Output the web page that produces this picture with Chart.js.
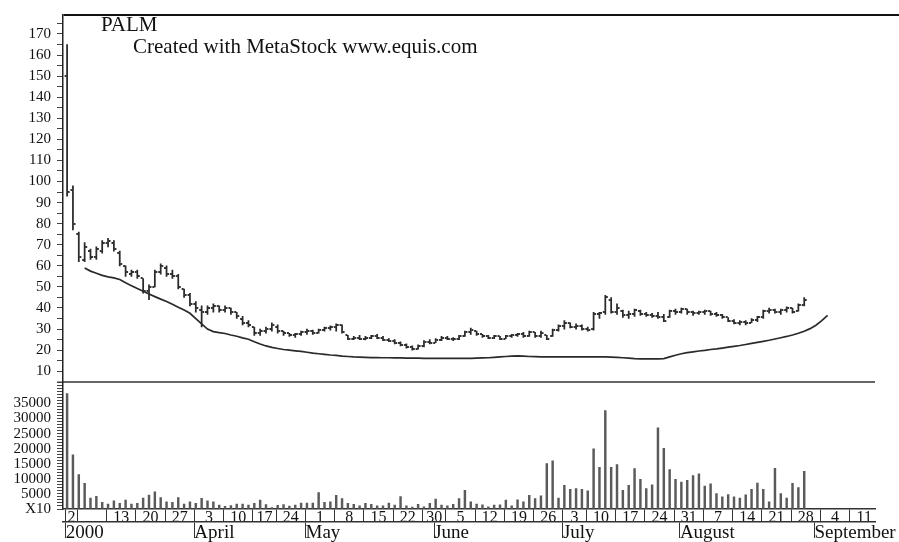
<!DOCTYPE html>
<html><head><meta charset="utf-8">
<script src="https://cdn.jsdelivr.net/npm/chart.js@4.4.1/dist/chart.umd.min.js"></script>
<style>
html,body{margin:0;padding:0;background:#fff;}
#wrap{position:relative;width:899px;height:542px;overflow:hidden;}
canvas{position:absolute;left:0;top:0;}
.note{position:absolute;font-family:"Liberation Serif",serif;font-size:21px;line-height:21px;color:#111;white-space:nowrap;}
</style></head><body>
<div id="wrap"><canvas id="c" width="899" height="542"></canvas>
<div class="note" style="left:101px;top:14px">PALM</div>
<div class="note" style="left:133px;top:36px">Created with MetaStock www.equis.com</div>
</div>
<script>
// ---- data (trading-day index 0 = 2 March 2000) ----
const highs = [165,98,76,71,68,69,72,73,72,67,60,58,58,54,51,58,61,60,58,56,49,47,43,41,41,42,41,41,40,38,36,34,31,30,31,33,32,29,28,28,29,30,29.5,30,31,31.5,32.5,32,27,26.5,27,26.5,27,27.5,26.5,25.5,25,24,23,22,22.5,24.5,25,25.5,26.5,26.5,26,27,29,30.5,29,27.5,27,27,26.5,27,27.5,28,28.5,29,28.5,29,27,30,32,34,33,32.5,32,31,38,38,46,45,42,39,38.5,39.5,39,38,37.5,38,37,39,39.5,40,39.5,38.5,38.5,39,38.5,38,37,35.5,34.5,34,34,35,36,39,40,39.5,39.5,40.5,40,42,45];
const lows = [93,77,62,62,63,63,66,69,67,60,55,55,54,47,44,50,56,55,54,49,45,41,38,31,37,38,38,38,37,35,32,31,27,27,28,29,28,27,26.5,26,27,27.5,27.5,28,29,29.5,29,28,25,25,25,24.8,25.5,25.5,24.5,24,23,22,21,20,20.5,21.5,23,23.5,24.5,25,24.5,25,26.5,27.5,27,26,25.5,25.5,25,25.5,26,26.5,26,26.5,26,26,25,26.5,29,30,30.5,30,29.5,29,29.5,35,37,37.5,37,35.5,35,36,36.5,36,35.5,35,33.5,35.5,37,37.5,37,36.5,37,37,36.5,36,35,33.5,32.5,32,32,33,33.5,35,37.5,37.5,37,38,37.5,38.5,41];
const opens = [150,96,75,63,67,64,67,71,71,66,60,56,57,54,48,50,57,59,56,55,49,46,42,39,38,40,41,39,40,38,35,33,31,28,29,30,31,29,28,27,27.5,28.5,29,28,29.5,30.5,31,32,27,25.5,26,25.5,26,26.5,26,25,24.5,23.5,22.5,21.5,20.5,22,24,23.5,25,26,25.5,25.5,26.5,28.5,29,27.5,26.5,26,26.5,25.5,26.5,27,27.5,26.5,28.5,26.5,27,26.5,29.5,31.5,33,31,31.5,30,30,37,38,44,38,38.5,36.5,37,38.5,37,36.5,36,35.5,35.5,38.5,38,39.5,38,37.5,38,38.5,37,36.5,35.5,34,33,33.5,33,34.5,35.5,38.5,39,38,39,40,38.5,41.5];
const closes = [95,80,64,69,64,68,71,72,68,61,57,57,55,48,50,57,60,56,55,50,46,42,40,38,40,41,39,40,38,36,33,32,28,29,30,32,29,28,27,27.5,28.5,29,28,29.5,30.5,31,32,28.5,25.5,26,25.5,26,26.5,26,25,24.5,23.5,22.5,21.5,20.5,22,24,23.5,25,26,25.5,25.5,26.5,28.5,29.5,27.5,26.5,26,26.5,25.5,26.5,27,27.5,26.5,28.5,26.5,28,25.5,29.5,31.5,33,31,31.5,30,29.5,37,37.5,45,38,40,36.5,37,39,37,36.5,36,35.5,34,38.5,38,39.5,38,37.5,38,38.5,37,36.5,35.5,34,33,33.5,33,34.5,35.5,38.5,39,38,39,40,38,41.5,44];
const volumes = [38300,18000,11400,8500,3600,4200,2200,1600,2700,1900,3000,1600,1900,3600,4600,5700,3800,2400,2200,3800,1600,2400,1900,3500,2700,2400,1300,900,1100,1600,1600,1300,1900,3000,1500,500,1200,1500,1000,1310,1960,1960,1960,5450,2180,2400,4570,3490,1850,1520,1090,1850,1520,1090,1090,1960,1310,4140,1090,650,1520,760,1850,3270,1310,1090,1520,3490,6210,2400,1640,1420,760,1310,1420,2940,1090,3050,2400,4570,3490,4360,15030,16010,3600,7840,6540,6750,6540,6000,19930,13830,32680,13830,14700,6200,7840,13400,9800,6750,8000,26900,20150,13070,9800,8900,9480,11100,11650,7630,8390,5120,4030,4790,4030,3590,4680,6540,8610,6540,2400,13500,5120,3590,8500,7080,12530];
const movingAvg = [null,null,null,59,57.5,56.5,55.5,54.8,54.3,53.5,52,50.6,49.2,47.9,46.6,45.4,44.2,43.1,41.8,40.4,39,37.5,35,32.5,30,28.8,28.3,27.9,27.2,26.6,25.8,25.2,24,22.9,22,21.3,20.8,20.3,20,19.7,19.4,19,18.6,18.3,18,17.7,17.5,17.2,17,16.8,16.7,16.6,16.5,16.5,16.4,16.4,16.3,16.3,16.2,16.2,16.2,16.1,16.1,16.1,16.1,16.1,16.1,16.1,16.1,16.1,16.2,16.3,16.4,16.6,16.8,17,17.2,17.3,17.2,17,16.9,16.8,16.8,16.8,16.8,16.8,16.8,16.8,16.8,16.8,16.8,16.8,16.8,16.7,16.6,16.4,16.2,16,15.9,15.9,15.9,15.9,16,16.8,17.6,18.3,18.8,19.2,19.6,19.9,20.3,20.6,21,21.4,21.8,22.2,22.7,23.2,23.7,24.2,24.7,25.3,25.9,26.5,27.2,28,29,30.2,31.8,34,36.5];
const weekStartIdx = [0,2,7,12,17,22,27,32,36,41,46,51,56,61,65,70,75,80,85,89,94,99,104,109,114,119,124,129,134,139];
const weekLabels = ['2','','13','20','27','3','10','17','24','1','8','15','22','30','5','12','19','26','3','10','17','24','31','7','14','21','28','4','11'];
const monthStartIdx = [0,22,41,63,85,105,128];
const monthLabels = ['2000','April','May','June','July','August','September'];
const priceTickLabels = [10,20,30,40,50,60,70,80,90,100,110,120,130,140,150,160,170];
const volumeTickLabels = [5000,10000,15000,20000,25000,30000,35000];
const volumeZeroLabel = 'X10';

// ---- chart ----
const FONT = '"Liberation Serif", "DejaVu Serif", serif';
Chart.defaults.font.family = FONT;
Chart.defaults.color = '#111';
const X_MIN = -0.7, X_MAX = 138.1, P_MIN = 5, P_MAX = 179, V_MAX = 42200;
const SHIFT = -0.25;

function tickImg(side){
  const c = document.createElement('canvas'); c.width = 7; c.height = 2;
  const g = c.getContext('2d'); g.fillStyle = '#333';
  if (side < 0) g.fillRect(1,0,2,2); else g.fillRect(4,0,2,2);
  return c;
}
const openImg = tickImg(-1), closeImg = tickImg(1);

const priceTicks = [];
for (let v = 5; v <= 175; v += 5) priceTicks.push(v);
priceTicks.push(P_MAX);
const volTicks = [];
for (let v = 0; v <= 42000; v += 1000) volTicks.push(v);

const idx = highs.map((_, i) => i);
const weekTicks = weekStartIdx.map(v => v + SHIFT).filter(v => v <= X_MAX);
const midTicks = weekLabels.map((_, k) => (weekStartIdx[k] + weekStartIdx[k+1]) / 2 + SHIFT);
const monthTicks = monthStartIdx.map(v => v + SHIFT);

// draws the frame line on top that runs on past the plot to the page edge
const topRule = {
  id: 'topRule',
  afterDraw(chart) {
    const a = chart.chartArea, c = chart.ctx;
    c.save(); c.strokeStyle = '#111'; c.lineWidth = 2;
    c.beginPath(); c.moveTo(a.right, a.top); c.lineTo(chart.width, a.top); c.stroke(); c.restore();
  }
};

new Chart(document.getElementById('c'), {
  type: 'bar',
  data: {
    datasets: [
      { type: 'bar', xAxisID: 'x', yAxisID: 'y', grouped: false,
        data: idx.map(i => ({x: i, y: [lows[i], highs[i]]})),
        backgroundColor: '#2a2a2a', barThickness: 1.1, borderWidth: 0 },
      { type: 'scatter', xAxisID: 'x', yAxisID: 'y', showLine: false,
        data: idx.map(i => ({x: i, y: opens[i]})), pointStyle: openImg, pointRadius: 3 },
      { type: 'scatter', xAxisID: 'x', yAxisID: 'y', showLine: false,
        data: idx.map(i => ({x: i, y: closes[i]})), pointStyle: closeImg, pointRadius: 3 },
      { type: 'line', xAxisID: 'x', yAxisID: 'y',
        data: movingAvg.map((v, i) => ({x: i, y: v})).filter(p => p.y !== null),
        borderColor: '#2a2a2a', borderWidth: 1.7, pointRadius: 0, tension: 0, fill: false },
      { type: 'bar', xAxisID: 'x', yAxisID: 'yv', grouped: false,
        data: idx.map(i => ({x: i, y: volumes[i]})),
        backgroundColor: '#5a5a5a', barThickness: 1.8, borderWidth: 0 }
    ]
  },
  plugins: [topRule],
  options: {
    responsive: false, animation: false, devicePixelRatio: 1, events: [],
    layout: { padding: { top: 12, right: 24, bottom: 0, left: 0 } },
    plugins: { legend: { display: false }, tooltip: { enabled: false }, title: { display: false } },
    scales: {
      yv: {
        type: 'linear', axis: 'y', position: 'left', stack: 'panes', stackWeight: 128,
        min: 0, max: V_MAX,
        afterBuildTicks: s => { s.ticks = volTicks.map(v => ({value: v})); },
        afterFit: s => { s.width = 63; },
        ticks: { autoSkip: false, padding: 6, font: { size: 15 }, color: '#111',
          callback: v => v === 0 ? volumeZeroLabel : (volumeTickLabels.includes(v) ? String(v) : '') },
        grid: { drawOnChartArea: false, tickLength: 6, color: '#444', tickWidth: 1 },
        border: { color: '#222', width: 1.5 }
      },
      y: {
        type: 'linear', axis: 'y', position: 'left', stack: 'panes', stackWeight: 369,
        min: P_MIN, max: P_MAX,
        afterBuildTicks: s => { s.ticks = priceTicks.map(v => ({value: v})); },
        afterFit: s => { s.width = 63; },
        ticks: { autoSkip: false, padding: 6, font: { size: 15 }, color: '#111',
          callback: v => priceTickLabels.includes(v) ? String(v) : '' },
        grid: {
          drawOnChartArea: true, tickLength: 6, tickWidth: 1,
          color: c => c.tick && c.tick.value === P_MAX ? '#111' : (c.tick && c.tick.value === P_MIN ? '#666' : 'rgba(0,0,0,0)'),
          lineWidth: c => c.tick && (c.tick.value === P_MAX || c.tick.value === P_MIN) ? 2 : 1,
          tickColor: c => c.tick && c.tick.value === P_MAX ? 'rgba(0,0,0,0)' : '#444'
        },
        border: { color: '#222', width: 1.5 }
      },
      x: {
        type: 'linear', position: 'bottom', min: X_MIN, max: X_MAX, offset: false,
        afterBuildTicks: s => { s.ticks = weekTicks.map(v => ({value: v})); },
        afterFit: s => { s.height = 0; },
        ticks: { display: false },
        grid: { offset: false, drawOnChartArea: false, tickLength: 13, color: '#333', lineWidth: 1 },
        border: { color: '#333', width: 1.5 }
      },
      xd: {
        type: 'linear', axis: 'x', position: 'bottom', min: X_MIN, max: X_MAX, offset: false,
        afterBuildTicks: s => { s.ticks = midTicks.map(v => ({value: v})); },
        afterFit: s => { s.height = 13; },
        ticks: { autoSkip: false, maxRotation: 0, minRotation: 0, padding: -1, font: { size: 16 }, color: '#111',
          callback: (v, i) => weekLabels[i] },
        grid: { offset: false, display: false, drawTicks: false },
        border: { display: false }
      },
      xm: {
        type: 'linear', axis: 'x', position: 'bottom', min: X_MIN, max: X_MAX, offset: false,
        afterBuildTicks: s => { s.ticks = monthTicks.map(v => ({value: v})); },
        afterFit: s => { s.height = 20; },
        ticks: { autoSkip: false, maxRotation: 0, minRotation: 0, align: 'start', padding: -16, font: { size: 19 }, color: '#111',
          callback: (v, i) => monthLabels[i] },
        grid: { offset: false, drawOnChartArea: false, tickLength: 16, color: '#333', lineWidth: 1 },
        border: { color: '#333', width: 1.5 }
      }
    }
  }
});
</script>
</body></html>
